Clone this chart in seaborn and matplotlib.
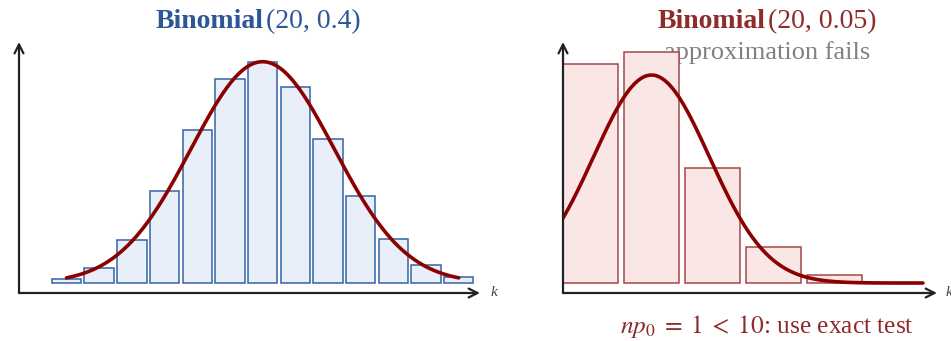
import numpy as np
import pandas as pd
import matplotlib.pyplot as plt
import seaborn as sns

# Dados
k_left = [2, 3, 4, 5, 6, 7, 8, 9, 10, 11, 12, 13, 14]
p_left = [0.0031, 0.0123, 0.0350, 0.0746, 0.1244, 0.1659, 0.1797,
          0.1597, 0.1171, 0.0710, 0.0355, 0.0146, 0.0049]
k_right = [0, 1, 2, 3, 4]
p_right = [0.3585, 0.3774, 0.1887, 0.0596, 0.0133]

# Curva normal de aproximação (média, desvio, pico, domínio)
curve_left = dict(mu=8.0, sd=2.19, peak=0.180, lo=2.0, hi=14.0)
curve_right = dict(mu=1.0, sd=0.95, peak=0.340, lo=-0.45, hi=5.45)

BLUE = '#2c5796'
BLUE_FILL = '#e8eff8'
BLUE_EDGE = '#3563a3'
RED = '#8e2b2b'
RED_FILL = '#fbe6e6'
RED_EDGE = '#a34848'
CURVE = '#8b0000'
AXIS = '#222222'

sns.set_theme(style='white')
plt.rcParams['font.family'] = ['Liberation Serif', 'DejaVu Serif']
plt.rcParams['mathtext.fontset'] = 'stix'

W, H = 951, 341
fig = plt.figure(figsize=(W / 100, H / 100), dpi=100)
ax1 = fig.add_axes([19 / W, 48 / H, 461 / W, 251 / H])
ax2 = fig.add_axes([563 / W, 48 / H, 374 / W, 251 / H])


def draw_panel(ax, ks, ps, curve, fill, edge, xlim, ylim):
    df = pd.DataFrame({'k': ks, 'p': ps})
    sns.barplot(data=df, x='k', y='p', native_scale=True, width=0.9,
                color=fill, edgecolor=edge, linewidth=1.1, saturation=1,
                ax=ax, zorder=2)
    xs = np.linspace(curve['lo'], curve['hi'], 300)
    ys = curve['peak'] * np.exp(-(xs - curve['mu']) ** 2 / (2 * curve['sd'] ** 2))
    sns.lineplot(x=xs, y=ys, color=CURVE, linewidth=2.6, ax=ax, zorder=3)
    ax.set_xlim(*xlim)
    ax.set_ylim(*ylim)
    ax.set_axis_off()
    arrow = dict(arrowstyle='->', color=AXIS, lw=1.6, shrinkA=0, shrinkB=0,
                 mutation_scale=16)
    ax.annotate('', xy=(0, 1), xytext=(0, 0), xycoords='axes fraction',
                arrowprops=arrow)
    ax.annotate('', xy=(1, 0), xytext=(0, 0), xycoords='axes fraction',
                arrowprops=arrow)


draw_panel(ax1, k_left, p_left, curve_left, BLUE_FILL, BLUE_EDGE,
           (0.547, 14.65), (-0.0081, 0.196))
draw_panel(ax2, k_right, p_right, curve_right, RED_FILL, RED_EDGE,
           (-0.45, 5.68), (-0.0163, 0.394))

# Títulos
ty = 1 - 22 / H
fig.text(264 / W, ty, 'Binomial', weight='bold', ha='right', va='center',
         color=BLUE, fontsize=20)
fig.text(266 / W, ty, '(20, 0.4)', ha='left', va='center', color=BLUE,
         fontsize=20)
fig.text(766 / W, ty, 'Binomial', weight='bold', ha='right', va='center',
         color=RED, fontsize=20)
fig.text(768 / W, ty, '(20, 0.05)', ha='left', va='center', color=RED,
         fontsize=20)

# Texto atrás das barras
ax2.text(767 / W, 1 - 53 / H, 'approximation fails', ha='center', va='center',
         color='#808080', fontsize=19, transform=fig.transFigure, zorder=1)

fig.text(767 / W, 1 - 326 / H, r'$np_0\;=\;1\;<\;10$: use exact test',
         ha='center', va='center', color=RED, fontsize=18.3)

# Rótulos dos eixos
fig.text(491 / W, 1 - 293 / H, 'k', style='italic', ha='left', va='center',
         color='#444444', fontsize=11)
fig.text(946 / W, 1 - 293 / H, 'k', style='italic', ha='left', va='center',
         color='#444444', fontsize=11)

fig.savefig('out.png', dpi=100)
